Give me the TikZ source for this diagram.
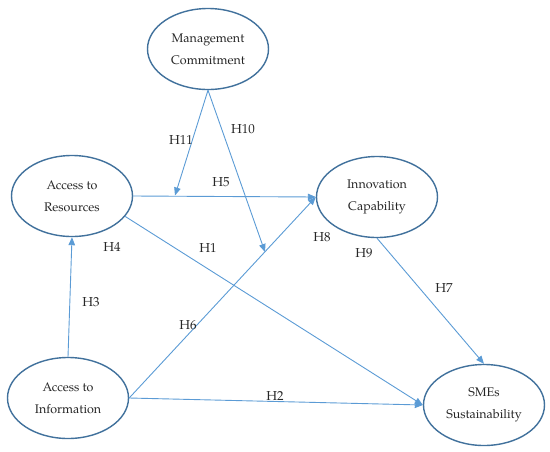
\documentclass[tikz,border=0pt]{standalone}
\usepackage{fontspec}
\setmainfont{TeX Gyre Pagella}
\usetikzlibrary{shapes.geometric,arrows.meta}
\definecolor{ellblue}{HTML}{41719C}
\definecolor{lineblue}{HTML}{5B9BD5}
\begin{document}
\begin{tikzpicture}[x=1pt,y=-1pt,
  construct/.style={ellipse,draw=ellblue,line width=1.4pt,minimum width=121pt,minimum height=81pt,inner sep=0pt,align=center,font=\fontsize{12.5}{22}\selectfont,text=black!85},
  conn/.style={draw=lineblue,line width=0.9pt,-{Triangle[length=8pt,width=6.5pt]}},
  hlab/.style={font=\fontsize{13}{15}\selectfont,text=black!85,inner sep=0pt}]
\useasboundingbox (0,0) rectangle (550,451);
\node[construct] (mc) at (208,49) {Management\\Commitment};
\node[construct] (ar) at (72,196) {Access to\\Resources};
\node[construct] (ic) at (377,197) {Innovation\\Capability};
\node[construct] (ai) at (68,398) {Access to\\Information};
\node[construct] (sme) at (484,405) {SMEs\\Sustainability};
\coordinate (t11) at (175,195.5);
\coordinate (t10) at (265,252);
\draw[conn] (ar.east) -- (ic.west);
\draw[conn] (ai.east) -- (ic.west);
\draw[conn] (mc.south) -- (t11);
\draw[conn] (mc.south) -- (t10);
\draw[conn] (ar.-21) -- (sme.west);
\draw[conn] (ai.east) -- (sme.west);
\draw[conn] (ai.north) -- (ar.south);
\draw[conn] (ic.south) -- (sme.north);
\node[hlab] (l11) at (181,140) {H11};
\node[hlab] (l10) at (243,129) {H10};
\node[hlab] (l5) at (221,182) {H5};
\node[hlab] (l1) at (208,248) {H1};
\node[hlab] (l8) at (322,237) {H8};
\node[hlab] (l4) at (112,247) {H4};
\node[hlab] (l6) at (188,325) {H6};
\node[hlab] (l9) at (364,253) {H9};
\node[hlab] (l7) at (444,288) {H7};
\node[hlab] (l3) at (91,302) {H3};
\node[hlab] (l2) at (275,396) {H2};
\end{tikzpicture}
\end{document}
